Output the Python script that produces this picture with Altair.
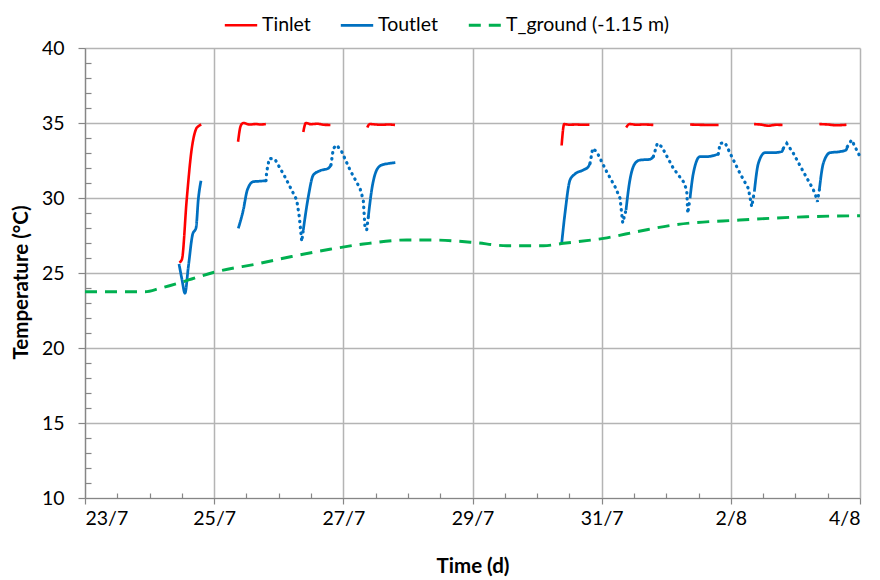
import altair as alt
import pandas as pd

# ---------------- data (days since 23/7 00:00) ----------------
TIN_DAYS = [
    [1.46, 1.50, 1.575, 1.65, 1.72, 1.76, 1.80],
    [2.37, 2.41, 2.45, 2.55, 2.65, 2.72, 2.80],
    [3.38, 3.42, 3.50, 3.60, 3.70, 3.80],
    [4.37, 4.41, 4.50, 4.60, 4.70, 4.80],
    [7.38, 7.42, 7.50, 7.60, 7.70, 7.81],
    [8.38, 8.43, 8.55, 8.65, 8.80],
    [9.37, 9.50, 9.65, 9.81],
    [10.36, 10.45, 10.58, 10.70, 10.80],
    [11.37, 11.50, 11.62, 11.79],
]
TIN_VALS = [
    [25.7, 25.9, 29.9, 33.2, 34.6, 34.8, 34.9],
    [33.75, 34.8, 35.0, 34.9, 34.93, 34.9, 34.93],
    [34.4, 35.0, 34.92, 34.95, 34.88, 34.87],
    [34.7, 34.93, 34.9, 34.88, 34.9, 34.87],
    [33.5, 34.93, 34.88, 34.9, 34.88, 34.89],
    [34.7, 34.93, 34.88, 34.9, 34.87],
    [34.9, 34.88, 34.87, 34.87],
    [34.93, 34.9, 34.82, 34.88, 34.87],
    [34.93, 34.9, 34.85, 34.88],
]

TOUT_DAYS = [
    [1.456, 1.50, 1.548, 1.60, 1.668, 1.719, 1.754, 1.796],
    [2.374, 2.451, 2.513, 2.606, 2.70, 2.803],
    [3.38, 3.458, 3.535, 3.639, 3.768, 3.809],
    [4.387, 4.439, 4.517, 4.594, 4.70, 4.805],
    [7.381, 7.432, 7.510, 7.587, 7.716, 7.794, 7.820],
    [8.377, 8.429, 8.517, 8.594, 8.749, 8.800],
    [9.368, 9.419, 9.522, 9.626, 9.806],
    [10.364, 10.426, 10.529, 10.658, 10.788, 10.813],
    [11.370, 11.432, 11.536, 11.690, 11.784, 11.804],
]
TOUT_VALS = [
    [25.6, 24.6, 23.65, 25.4, 27.6, 28.0, 29.9, 31.15],
    [27.98, 29.2, 30.53, 31.09, 31.12, 31.15],
    [27.87, 30.09, 31.53, 31.82, 31.98, 32.2],
    [28.75, 30.53, 31.87, 32.2, 32.3, 32.36],
    [26.98, 28.98, 31.2, 31.6, 31.87, 32.09, 32.31],
    [29.2, 30.98, 32.31, 32.53, 32.58, 32.76],
    [29.98, 31.64, 32.76, 32.76, 32.93],
    [30.42, 32.31, 33.02, 33.02, 33.09, 33.31],
    [30.53, 32.31, 33.02, 33.09, 33.2, 33.42],
]

# night-time (dotted) parts of Toutlet
TOUT_NIGHT_DAYS = [
    [2.803, 2.813, 2.854, 2.942, 3.097, 3.278, 3.318, 3.356, 3.38],
    [3.809, 3.845, 3.897, 3.975, 4.103, 4.258, 4.309, 4.336, 4.362, 4.387],
    [7.820, 7.861, 7.923, 8.078, 8.207, 8.284, 8.326, 8.377],
    [8.800, 8.862, 8.93, 9.110, 9.265, 9.317, 9.333, 9.368],
    [9.806, 9.833, 9.91, 10.014, 10.142, 10.271, 10.324, 10.364],
    [10.813, 10.866, 10.968, 11.123, 11.253, 11.304, 11.340, 11.370],
    [11.804, 11.871, 11.948, 12.0],
]
TOUT_NIGHT_VALS = [
    [31.15, 31.75, 32.64, 32.58, 31.4, 29.87, 28.75, 27.1, 27.87],
    [32.2, 33.31, 33.53, 33.09, 31.87, 30.64, 29.87, 27.98, 27.87, 28.75],
    [32.31, 33.31, 33.09, 31.75, 30.75, 29.98, 28.35, 29.2],
    [32.76, 33.64, 33.42, 31.98, 31.09, 30.53, 28.98, 29.98],
    [32.93, 33.64, 33.69, 32.76, 31.64, 30.64, 29.42, 30.42],
    [33.31, 33.64, 32.98, 31.75, 30.75, 30.31, 29.75, 30.53],
    [33.42, 33.87, 33.2, 32.76],
]

TG_DAYS = [0, 0.93, 1.16, 1.52, 2.0, 2.7, 3.2, 3.79, 4.31, 4.98, 5.34, 6.01,
           6.53, 7.10, 7.41, 8.03, 8.6, 9.11, 10.14, 11.17, 12.0]
TG_VALS = [23.75, 23.75, 23.98, 24.42, 25.05, 25.64, 26.1, 26.58, 26.93, 27.2,
           27.2, 27.04, 26.82, 26.82, 26.98, 27.31, 27.8, 28.2, 28.53, 28.75, 28.82]

SERIES = ["Tinlet", "Toutlet", "T_ground (-1.15 m)"]
COLORS = ["#FF0000", "#0070C0", "#00B050"]
WIDTHS = [2.6, 2.9, 3.4]

X_TICKS = [0, 2, 4, 6, 8, 10, 12]
X_LABELS = ["23/7", "25/7", "27/7", "29/7", "31/7", "2/8", "4/8"]
X_MINOR = [v / 2 for v in range(0, 25) if v % 4 != 0]
Y_TICKS = [10, 15, 20, 25, 30, 35, 40]
Y_MINOR = [v for v in range(10, 41) if v % 5 != 0]

FONT = "Lato"
FS = 19.5

# ---------------- build tables ----------------
rows = []
for i, (ds, vs) in enumerate(zip(TIN_DAYS, TIN_VALS)):
    for d, v in zip(ds, vs):
        rows.append({"day": d, "T": v, "series": SERIES[0], "seg": f"in{i}"})
for i, (ds, vs) in enumerate(zip(TOUT_DAYS, TOUT_VALS)):
    for d, v in zip(ds, vs):
        rows.append({"day": d, "T": v, "series": SERIES[1], "seg": f"out{i}"})
for d, v in zip(TG_DAYS, TG_VALS):
    rows.append({"day": d, "T": v, "series": SERIES[2], "seg": "g"})
solid = pd.DataFrame(rows)

nrows = []
for i, (ds, vs) in enumerate(zip(TOUT_NIGHT_DAYS, TOUT_NIGHT_VALS)):
    for d, v in zip(ds, vs):
        nrows.append({"day": d, "T": v, "seg": f"n{i}"})
night = pd.DataFrame(nrows)

label_expr = " : ".join(
    f"datum.value == {t} ? '{l}'" for t, l in zip(X_TICKS, X_LABELS)
) + " : ''"

GRID = "#B4B4B4"
AXC = "#868686"

x_main = alt.X(
    "day:Q",
    scale=alt.Scale(domain=[0, 12], nice=False, zero=False),
    axis=alt.Axis(
        values=X_TICKS, labelExpr=label_expr, title="Time (d)",
        grid=True, gridColor=GRID, gridWidth=1.5,
        domainColor=AXC, domainWidth=1.2, tickColor=AXC, tickSize=6, tickWidth=1.2,
        labelFont=FONT, labelFontSize=FS, labelColor="#000", labelPadding=5,
        titleFont=FONT, titleFontSize=20.5, titleFontWeight="bold", titleColor="#000",
        titleY=68, titleBaseline="middle",
    ),
)
y_main = alt.Y(
    "T:Q",
    scale=alt.Scale(domain=[10, 40], nice=False, zero=False),
    axis=alt.Axis(
        values=Y_TICKS, title="Temperature (°C)",
        grid=True, gridColor=GRID, gridWidth=1.5,
        domainColor=AXC, domainWidth=1.2, tickColor=AXC, tickSize=7, tickWidth=1.2,
        labelFont=FONT, labelFontSize=FS, labelColor="#000", labelPadding=14,
        titleFont=FONT, titleFontSize=20.5, titleFontWeight="bold", titleColor="#000",
        titleX=-64, titleY=234, titleAngle=-90, titleAlign="center", titleBaseline="middle",
    ),
)

legend_cfg = dict(
    title=None, orient="none", direction="horizontal",
    legendX=138, legendY=-41,
    symbolType="stroke", symbolSize=1050, symbolStrokeWidth=3.2,
    labelFont=FONT, labelFontSize=FS, labelColor="#000", labelLimit=400,
    labelOffset=3, columnPadding=24, padding=0,
)

solid_layer = alt.Chart(solid).mark_line(interpolate="monotone").encode(
    x=x_main,
    y=y_main,
    color=alt.Color(
        "series:N",
        scale=alt.Scale(domain=SERIES, range=COLORS),
        legend=alt.Legend(**legend_cfg),
    ),
    strokeDash=alt.StrokeDash(
        "series:N",
        scale=alt.Scale(domain=SERIES, range=[[1, 0], [1, 0], [12, 8]]),
        legend=alt.Legend(**legend_cfg),
    ),
    strokeWidth=alt.StrokeWidth(
        "series:N",
        scale=alt.Scale(domain=SERIES, range=WIDTHS),
        legend=None,
    ),
    detail="seg:N",
)

night_layer = alt.Chart(night).mark_line(
    strokeWidth=3.2, strokeCap="round", strokeDash=[0.5, 5.5], color="#0070C0"
).encode(
    x=alt.X(
        "day:Q",
        axis=alt.Axis(
            values=X_MINOR, orient="bottom", offset=-5, tickSize=5, tickWidth=1.2,
            tickColor=AXC, labels=False, domain=False, grid=False, title=None,
        ),
    ),
    y=alt.Y(
        "T:Q",
        axis=alt.Axis(
            values=Y_MINOR, orient="left", offset=-6, tickSize=6, tickWidth=1.2,
            tickColor=AXC, labels=False, domain=False, grid=False, title=None,
        ),
    ),
    detail="seg:N",
)

chart = alt.layer(solid_layer, night_layer).resolve_axis(
    x="independent", y="independent"
).properties(
    width=775, height=450,
    autosize=alt.AutoSizeParams(type="none"),
    padding={"left": 85, "top": 48, "right": 20, "bottom": 82},
    background="white",
).configure_view(stroke=None)

chart.save("out.html", embed_options={"renderer": "svg", "actions": False})
